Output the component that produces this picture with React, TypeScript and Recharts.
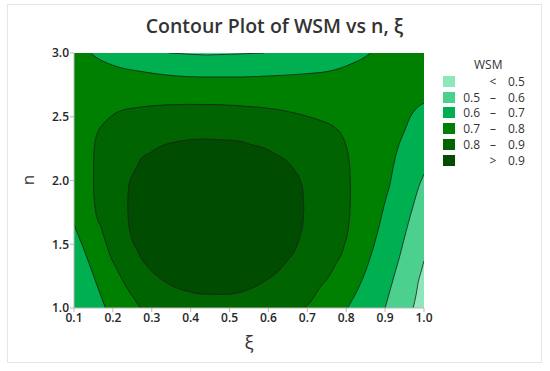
import React from 'react';
import { ComposedChart, Area, Line, XAxis, YAxis } from 'recharts';

// ---- axes ----
const xiTicks = [0.1, 0.2, 0.3, 0.4, 0.5, 0.6, 0.7, 0.8, 0.9, 1.0];
const nTicks = [1.0, 1.5, 2.0, 2.5, 3.0];

// ---- legend ----
const levelColors = ['#8ee6bb', '#4cd08d', '#00b050', '#008000', '#006400', '#004c00'];
const levelLow = ['', '0.5', '0.6', '0.7', '0.8', ''];
const levelSign = ['<', '–', '–', '–', '–', '>'];
const levelHigh = ['0.5', '0.6', '0.7', '0.8', '0.9', '0.9'];

// ---- contour regions: x = ξ, r = [n low, n high] ----
const background = [
  { x: 0.1, r: [1.0, 3.0] },
  { x: 1.0, r: [1.0, 3.0] },
];

// 0.6–0.7 along the top edge
const topBand = [
  { x: 0.143, r: [3.0, 3.0] },
  { x: 0.16, r: [2.96, 3.0] },
  { x: 0.186, r: [2.92, 3.0] },
  { x: 0.22, r: [2.885, 3.0] },
  { x: 0.271, r: [2.856, 3.0] },
  { x: 0.357, r: [2.822, 3.0] },
  { x: 0.426, r: [2.812, 3.0] },
  { x: 0.529, r: [2.812, 3.0] },
  { x: 0.614, r: [2.822, 3.0] },
  { x: 0.7, r: [2.838, 3.0] },
  { x: 0.76, r: [2.86, 3.0] },
  { x: 0.786, r: [2.882, 3.0] },
  { x: 0.82, r: [2.925, 3.0] },
  { x: 0.837, r: [2.948, 3.0] },
  { x: 0.863, r: [3.0, 3.0] },
];

// 0.5–0.6 sliver at the top edge
const topSliver = [
  { x: 0.344, r: [3.0, 3.0] },
  { x: 0.39, r: [2.992, 3.0] },
  { x: 0.44, r: [2.985, 3.0] },
  { x: 0.5, r: [2.99, 3.0] },
  { x: 0.589, r: [3.0, 3.0] },
];

// 0.6–0.7 in the lower-left corner
const leftCorner = [
  { x: 0.1, r: [1.0, 1.651] },
  { x: 0.126, r: [1.0, 1.455] },
  { x: 0.151, r: [1.0, 1.246] },
  { x: 0.173, r: [1.0, 1.063] },
  { x: 0.181, r: [1.0, 1.0] },
];

// 0.6–0.7 on the right side
const rightBand67 = [
  { x: 0.803, r: [1.0, 1.0] },
  { x: 0.829, r: [1.0, 1.141] },
  { x: 0.854, r: [1.0, 1.324] },
  { x: 0.88, r: [1.0, 1.586] },
  { x: 0.901, r: [1.0, 1.847] },
  { x: 0.913, r: [1.0, 1.978] },
  { x: 0.923, r: [1.0, 2.137] },
  { x: 0.934, r: [1.0, 2.265] },
  { x: 0.951, r: [1.0, 2.396] },
  { x: 0.965, r: [1.0, 2.5] },
  { x: 0.974, r: [1.0, 2.542] },
  { x: 0.99, r: [1.0, 2.59] },
  { x: 1.0, r: [1.0, 2.605] },
];

// 0.5–0.6 on the right side
const rightBand56 = [
  { x: 0.9, r: [1.0, 1.0] },
  { x: 0.91, r: [1.0, 1.11] },
  { x: 0.925, r: [1.0, 1.272] },
  { x: 0.937, r: [1.0, 1.4] },
  { x: 0.948, r: [1.0, 1.53] },
  { x: 0.96, r: [1.0, 1.67] },
  { x: 0.972, r: [1.0, 1.8] },
  { x: 0.987, r: [1.0, 1.954] },
  { x: 1.0, r: [1.0, 2.05] },
];

// < 0.5 in the lower-right corner
const rightCorner = [
  { x: 0.972, r: [1.0, 1.0] },
  { x: 0.98, r: [1.0, 1.11] },
  { x: 0.985, r: [1.0, 1.2] },
  { x: 0.993, r: [1.0, 1.29] },
  { x: 1.0, r: [1.0, 1.37] },
];

// 0.8–0.9 ring (superlevel ≥ 0.8)
const ring = [
  { x: 0.15, r: [2.02, 2.02] },
  { x: 0.151, r: [1.9, 2.2] },
  { x: 0.153, r: [1.82, 2.28] },
  { x: 0.156, r: [1.75, 2.33] },
  { x: 0.16, r: [1.7, 2.37] },
  { x: 0.169, r: [1.638, 2.42] },
  { x: 0.177, r: [1.56, 2.451] },
  { x: 0.194, r: [1.403, 2.5] },
  { x: 0.211, r: [1.3, 2.535] },
  { x: 0.229, r: [1.193, 2.555] },
  { x: 0.263, r: [1.037, 2.572] },
  { x: 0.271, r: [1.0, 2.576] },
  { x: 0.35, r: [1.0, 2.594] },
  { x: 0.4, r: [1.0, 2.597] },
  { x: 0.469, r: [1.0, 2.595] },
  { x: 0.55, r: [1.0, 2.58] },
  { x: 0.614, r: [1.0, 2.561] },
  { x: 0.692, r: [1.0, 2.51] },
  { x: 0.7, r: [1.02, 2.503] },
  { x: 0.734, r: [1.167, 2.47] },
  { x: 0.76, r: [1.27, 2.438] },
  { x: 0.769, r: [1.324, 2.42] },
  { x: 0.794, r: [1.481, 2.32] },
  { x: 0.807, r: [1.664, 2.163] },
  { x: 0.81, r: [1.8, 2.02] },
  { x: 0.811, r: [1.9, 1.9] },
];

// > 0.9 core
const core = [
  { x: 0.238, r: [1.8, 1.8] },
  { x: 0.24, r: [1.68, 1.93] },
  { x: 0.244, r: [1.6, 2.0] },
  { x: 0.25, r: [1.53, 2.04] },
  { x: 0.26, r: [1.47, 2.1] },
  { x: 0.271, r: [1.4, 2.163] },
  { x: 0.297, r: [1.298, 2.22] },
  { x: 0.314, r: [1.25, 2.255] },
  { x: 0.357, r: [1.167, 2.3] },
  { x: 0.4, r: [1.125, 2.32] },
  { x: 0.426, r: [1.11, 2.325] },
  { x: 0.486, r: [1.107, 2.318] },
  { x: 0.529, r: [1.125, 2.307] },
  { x: 0.546, r: [1.141, 2.29] },
  { x: 0.6, r: [1.23, 2.24] },
  { x: 0.614, r: [1.259, 2.216] },
  { x: 0.657, r: [1.403, 2.12] },
  { x: 0.666, r: [1.44, 2.085] },
  { x: 0.683, r: [1.586, 1.99] },
  { x: 0.688, r: [1.65, 1.93] },
  { x: 0.691, r: [1.78, 1.78] },
];

type Pt = { x: number; r: number[] };

// boundary line built from a region: keep values off the frame edge
function edge(arr: Pt[], idx: number, edgeVal: number) {
  return arr.map((d, i) => {
    const v = d.r[idx];
    const onEdge = Math.abs(v - edgeVal) < 1e-9;
    const prevOff = i > 0 && Math.abs(arr[i - 1].r[idx] - edgeVal) > 1e-9;
    const nextOff = i < arr.length - 1 && Math.abs(arr[i + 1].r[idx] - edgeVal) > 1e-9;
    return { x: d.x, y: !onEdge || prevOff || nextOff ? v : null };
  });
}

const regions: { data: Pt[]; color: string }[] = [
  { data: background, color: levelColors[3] },
  { data: topBand, color: levelColors[2] },
  { data: topSliver, color: levelColors[1] },
  { data: leftCorner, color: levelColors[2] },
  { data: rightBand67, color: levelColors[2] },
  { data: rightBand56, color: levelColors[1] },
  { data: rightCorner, color: levelColors[0] },
  { data: ring, color: levelColors[4] },
  { data: core, color: levelColors[5] },
];

const contourLines = [
  edge(topBand, 0, 3.0),
  edge(topSliver, 0, 3.0),
  edge(leftCorner, 1, 1.0),
  edge(rightBand67, 1, 1.0),
  edge(rightBand56, 1, 1.0),
  edge(rightCorner, 1, 1.0),
  edge(ring, 0, 1.0),
  edge(ring, 1, 3.0),
  edge(core, 0, 1.0),
  edge(core, 1, 3.0),
];

const FONT = '"Open Sans", "Noto Sans", sans-serif';

export default function App() {
  return (
    <div
      style={{
        position: 'absolute',
        left: 0,
        top: 0,
        width: 550,
        height: 371,
        background: '#fff',
        fontFamily: FONT,
      }}
    >
      <div
        style={{
          position: 'absolute',
          left: 7,
          top: 4,
          width: 535,
          height: 359,
          border: '1px solid #e6e6e6',
          boxSizing: 'border-box',
        }}
      />
      <div
        style={{
          position: 'absolute',
          left: 0,
          width: 549,
          top: 12,
          textAlign: 'center',
          fontSize: 19.5,
          fontWeight: 600,
          color: '#333',
          lineHeight: '28px',
        }}
      >
        Contour Plot of WSM vs n, ξ
      </div>
      <ComposedChart
        width={550}
        height={371}
        margin={{ top: 53, right: 126, bottom: 33, left: 34 }}
        style={{ position: 'absolute', left: 0, top: 0 }}
      >
        <XAxis
          type="number"
          dataKey="x"
          domain={[0.1, 1.0]}
          ticks={xiTicks}
          allowDataOverflow
          tickFormatter={(v: number) => v.toFixed(1)}
          tick={{ fill: '#262626', fontSize: 12, fontWeight: 600, fontFamily: FONT }}
          tickSize={4}
          tickMargin={1}
          stroke="#b9b9b9"
          height={30}
        />
        <YAxis
          type="number"
          domain={[1.0, 3.0]}
          ticks={nTicks}
          allowDataOverflow
          tickFormatter={(v: number) => v.toFixed(1)}
          tick={{ fill: '#262626', fontSize: 12, fontWeight: 600, fontFamily: FONT }}
          tickSize={4}
          tickMargin={1}
          stroke="#b9b9b9"
          width={40}
        />
        {regions.map((g, i) => (
          <Area
            key={'a' + i}
            data={g.data}
            dataKey="r"
            type="monotoneX"
            fill={g.color}
            fillOpacity={1}
            stroke="none"
            isAnimationActive={false}
            dot={false}
            activeDot={false}
          />
        ))}
        {contourLines.map((d, i) => (
          <Line
            key={'l' + i}
            data={d}
            dataKey="y"
            type="monotoneX"
            stroke="#1c1c1c"
            strokeWidth={0.8}
            dot={false}
            activeDot={false}
            connectNulls={false}
            isAnimationActive={false}
          />
        ))}
      </ComposedChart>
      <div
        style={{
          position: 'absolute',
          left: 21,
          top: 170,
          width: 14,
          height: 20,
          fontSize: 17,
          color: '#333',
          transform: 'rotate(-90deg)',
          lineHeight: '20px',
          textAlign: 'center',
        }}
      >
        n
      </div>
      <div
        style={{
          position: 'absolute',
          left: 239,
          top: 330,
          width: 20,
          fontSize: 19,
          color: '#333',
          lineHeight: '24px',
          textAlign: 'center',
        }}
      >
        ξ
      </div>
      <div style={{ position: 'absolute', left: 440, top: 60, width: 100, fontSize: 12, color: '#333' }}>
        <div style={{ position: 'absolute', left: 34, top: -1, lineHeight: '12px' }}>WSM</div>
        {levelColors.map((c, i) => (
          <div key={i} style={{ position: 'absolute', left: 0, top: 16 + i * 15.7, height: 12, width: 100 }}>
            <div style={{ position: 'absolute', left: 3, top: 0, width: 12, height: 11, background: c }} />
            <div style={{ position: 'absolute', left: 16, width: 24, textAlign: 'right', top: -1, lineHeight: '14px' }}>
              {levelLow[i]}
            </div>
            <div style={{ position: 'absolute', left: 48, width: 10, textAlign: 'center', top: -1, lineHeight: '14px' }}>
              {levelSign[i]}
            </div>
            <div style={{ position: 'absolute', left: 68, top: -1, lineHeight: '14px' }}>{levelHigh[i]}</div>
          </div>
        ))}
      </div>
    </div>
  );
}
